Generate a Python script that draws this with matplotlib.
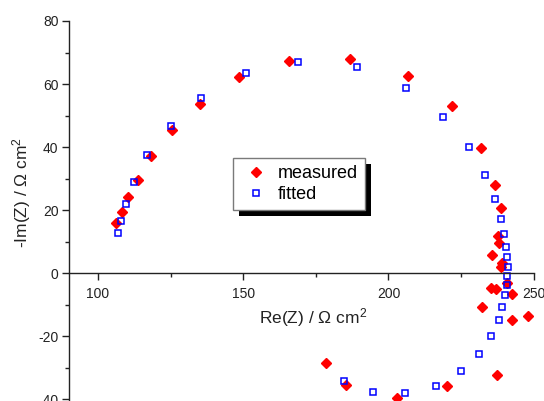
import matplotlib
matplotlib.use("Agg")
import matplotlib.pyplot as plt
from matplotlib.patches import Rectangle
from matplotlib.ticker import MultipleLocator

plt.rcParams['font.family'] = ['Liberation Sans', 'DejaVu Sans']
plt.rcParams['mathtext.fontset'] = 'custom'
plt.rcParams['mathtext.rm'] = 'Liberation Sans'
plt.rcParams['mathtext.default'] = 'regular'
plt.rcParams['axes.unicode_minus'] = False

# impedance spectrum, Re(Z) and -Im(Z) in Ohm cm2
meas_re = [106.1, 108.1, 110.2, 113.6, 118.3, 125.5, 135.1, 148.7, 165.8, 186.9,
           206.6, 222.0, 232.0, 236.7, 238.9, 237.6, 238.1, 235.7, 239.2, 238.7,
           240.8, 235.2, 237.1, 242.5, 232.1, 248.2, 242.6, 237.4, 220.3, 203.0,
           185.4, 178.6]
meas_im = [16.0, 19.5, 24.0, 29.6, 37.0, 45.4, 53.8, 62.2, 67.4, 67.9,
           62.4, 53.1, 39.6, 28.0, 20.6, 11.7, 9.4, 5.8, 3.1, 1.8,
           -3.3, -4.6, -5.0, -6.8, -10.7, -13.6, -14.9, -32.2, -35.7, -39.7,
           -35.6, -28.6]

fit_re = [106.9, 107.9, 109.5, 112.3, 117.0, 125.0, 135.6, 151.1, 169.0, 189.0,
          206.1, 218.8, 227.7, 233.2, 236.7, 238.6, 239.8, 240.5, 240.9, 241.0,
          240.9, 240.7, 240.0, 239.2, 237.9, 235.3, 231.2, 225.1, 216.2, 205.6,
          194.7, 184.8]
fit_im = [12.7, 16.6, 22.0, 28.8, 37.4, 46.8, 55.7, 63.4, 67.0, 65.3,
          58.7, 49.6, 39.9, 31.1, 23.6, 17.3, 12.4, 8.3, 5.0, 2.0,
          -1.0, -3.9, -6.9, -10.7, -14.9, -20.0, -25.6, -31.1, -35.9, -38.2,
          -37.7, -34.2]

fig = plt.figure(figsize=(5.44, 4.01), dpi=100)
ax = fig.add_axes([69 / 544, 0.0, 464.7 / 544, 380 / 401])

ax.plot(meas_re, meas_im, ls='none', marker='D', ms=4.8, color='red',
        mec='red', label='measured')
ax.plot(fit_re, fit_im, ls='none', marker='s', ms=5.0, mfc='none',
        mec='blue', mew=1.1, label='fitted')

ax.set_xlim(90, 250)
ax.set_ylim(-40.6, 80)
ax.xaxis.set_major_locator(MultipleLocator(50))
ax.xaxis.set_minor_locator(MultipleLocator(25))
ax.yaxis.set_major_locator(MultipleLocator(20))
ax.yaxis.set_minor_locator(MultipleLocator(10))

# origin-style axes: x axis runs through zero
ax.spines['top'].set_visible(False)
ax.spines['right'].set_visible(False)
ax.spines['bottom'].set_position(('data', 0))
for s in ('left', 'bottom'):
    ax.spines[s].set_color('#222222')
    ax.spines[s].set_linewidth(1.0)
ax.tick_params(which='major', direction='out', length=5, width=1.0,
               color='#222222', labelsize=10, labelcolor='#222222')
ax.tick_params(which='minor', direction='out', length=3, width=1.0,
               color='#222222')
ax.tick_params(axis='x', pad=5)
ax.tick_params(axis='y', pad=2.5)
ax.set_yticks([-40, -20, 0, 20, 40, 60, 80])
ax.set_xticks([100, 150, 200, 250])

ax.set_xlabel(r'Re(Z) / Ω cm$^2$', fontsize=12.5, color='#222222', va='center')
ax.set_ylabel(r'-Im(Z) / Ω cm$^2$', fontsize=12.5, color='#222222', va='center')
ax.xaxis.set_label_coords((313 - 69) / 464.7, (401 - 318) / 380)
ax.yaxis.set_label_coords((22 - 69) / 464.7, (401 - 192) / 380)

leg = ax.legend(loc='upper left', bbox_to_anchor=(233 / 544, 1 - 158 / 401),
                bbox_transform=fig.transFigure, borderaxespad=0,
                fontsize=13, fancybox=False, borderpad=0.4,
                handlelength=1.7, handletextpad=0.4, labelspacing=0.2,
                edgecolor='#7a7a7a', framealpha=1)
leg.get_frame().set_linewidth(1.0)

# solid black drop shadow behind the legend box
fig.canvas.draw()
bb = leg.get_window_extent().transformed(fig.transFigure.inverted())
dx, dy = 6 / 544, 6 / 401
ax.add_patch(Rectangle((bb.x0 + dx, bb.y0 - dy), bb.width, bb.height,
                       transform=fig.transFigure, facecolor='black',
                       edgecolor='none', zorder=4.9, clip_on=False))

fig.savefig('out.png', dpi=100)
